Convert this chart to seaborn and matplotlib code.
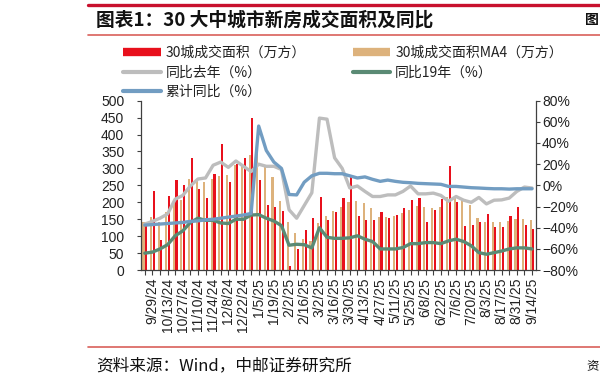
import matplotlib
matplotlib.use("Agg")
import numpy as np
import pandas as pd
import seaborn as sns
import matplotlib.pyplot as plt
from matplotlib.lines import Line2D

# ---------------- data ----------------
dates = pd.date_range("2024-09-22", periods=52, freq="7D")
date_labels = [f"{d.month}/{d.day}/{d.year % 100}" for d in dates]

area = [135, 233, 90, 218, 266, 252, 332, 238, 213, 285,
        372, 260, 312, 331, 450, 267, 192, 186, 175, 12,
        63, 118, 155, 217, 149, 171,
        213, 278, 159, 148, 148, 172, 155, 163, 184, 206,
        212, 141, 176, 210, 307, 201, 129, 133, 143, 165,
        128, 127, 160, 185, 133, 120]

area_ma4 = [142, 156, 143, 172, 200, 207, 268, 267, 260, 268,
            277, 282, 310, 308, 341, 342, 310, 275, 205, 141,
            109, 91, 86, 139, 159, 174,
            187, 202, 204, 198, 183, 157, 157, 160, 169, 177,
            190, 186, 184, 185, 215, 217, 207, 192, 153, 143,
            142, 141, 146, 152, 152, 149]

yoy_last = [-36.5, -34, -31, -27, -13, -9.5, -0.6, 6, 7, 19,
            22, 17, 23, 18, 13, 20, 18, 18, 15, -23,
            -31, -19, -7, 63.5, 62.5, 26,
            16, -2.5, -0.6, -5.7, -10.5, -10.5, -9, -9, -5.7, -0.6,
            -8, -8, -7.3, -9.5, -15, -10.5, -14, -16, -11.4, -17.5,
            -14, -13.7, -12, -5.7, -1.6, -2.5]

yoy_2019 = [-64, -63, -60, -56, -47.6, -43, -35, -31, -33, -33,
            -35.5, -36, -32, -32, -28, -27.6, -31, -33.6, -38, -56.5,
            -55.6, -56, -59, -40, -49, -50,
            -50, -49.5, -47.6, -50.8, -53, -60, -60, -60, -58.7, -55,
            -55, -54, -54, -55, -52.4, -50.8, -53, -57, -63.5, -65,
            -63.5, -62, -60, -59, -59, -60]

yoy_cum = [-37.5, -37, -36.5, -36, -35.5, -35, -34, -33.5, -32.5, -32,
           -31, -30, -29, -28, -26.5, 56, 33, 22, 16, -8.6,
           -9, 3, 9, 11.4, 11.4, 11,
           11, 9, 7, 8, 5.7, 3.8, 5, 3.8, 2.9, 2.5,
           1.9, 1.6, 1.3, 1, -1, -1, -1.6, -2.2, -2.5, -2.9,
           -3.2, -3.2, -3.5, -3.2, -3.2, -3.2]

name_area = "30城成交面积（万方）"
name_ma4 = "30城成交面积MA4（万方）"
name_last = "同比去年（%）"
name_2019 = "同比19年（%）"
name_cum = "累计同比（%）"

left_ticks = [0, 50, 100, 150, 200, 250, 300, 350, 400, 450, 500]
right_ticks = [-80, -60, -40, -20, 0, 20, 40, 60, 80]

# ---------------- style ----------------
C_RED = "#E8101C"
C_TAN = "#DDB27C"
C_GRAY = "#BDBDBD"
C_GREEN = "#5A8A74"
C_BLUE = "#729DC2"
C_SPINE = "#404040"
CJK = ["Noto Sans CJK SC", "Liberation Sans", "DejaVu Sans"]

sns.set_theme(style="white")
plt.rcParams["font.family"] = ["Liberation Sans", "Noto Sans CJK SC", "DejaVu Sans"]
plt.rcParams["axes.unicode_minus"] = True

fig = plt.figure(figsize=(6, 3.87), dpi=100)
ax = fig.add_axes([0.235, 0.302, 0.658, 0.438])

df = pd.DataFrame({
    "date": date_labels * 2,
    "series": [name_ma4] * len(area_ma4) + [name_area] * len(area),
    "value": area_ma4 + area,
})
sns.barplot(data=df, x="date", y="value", hue="series",
            hue_order=[name_ma4, name_area], palette=[C_TAN, C_RED],
            width=0.7, gap=0.2, saturation=1, linewidth=0,
            legend=False, ax=ax, order=date_labels)

ax2 = ax.twinx()
idx = np.arange(len(date_labels))
sns.lineplot(x=idx, y=yoy_last, ax=ax2, color=C_GRAY, linewidth=2.4, legend=False)
sns.lineplot(x=idx, y=yoy_2019, ax=ax2, color=C_GREEN, linewidth=2.4, legend=False)
sns.lineplot(x=idx, y=yoy_cum, ax=ax2, color=C_BLUE, linewidth=2.4, legend=False)

ax.set_xlim(-0.5, len(date_labels) - 0.5)
ax.set_ylim(0, 500)
ax2.set_ylim(-80, 80)
ax.set_xlabel("")
ax.set_ylabel("")
ax2.set_ylabel("")

ax.set_xticks(idx)
ax.set_xticklabels([lab if i % 2 == 1 else "" for i, lab in enumerate(date_labels)],
                   rotation=90, fontsize=10, color="#222222")
ax.set_yticks(left_ticks)
ax.set_yticklabels([str(v) for v in left_ticks], fontsize=10, color="#222222")
ax2.set_yticks(right_ticks)
ax2.set_yticklabels([f"{v}%".replace("-", "\u2212") for v in right_ticks], fontsize=10, color="#222222")

ax.tick_params(axis="x", direction="out", length=3.5, width=0.8, color=C_SPINE, pad=2, bottom=True)
ax.tick_params(axis="y", direction="out", length=3, width=0.8, color=C_SPINE, pad=9, left=True)
ax2.tick_params(axis="y", direction="out", length=3, width=0.8, color=C_SPINE, pad=1.5, right=True)

for a in (ax, ax2):
    a.grid(False)
    a.spines["top"].set_visible(False)
    for s in ("left", "right", "bottom"):
        a.spines[s].set_color(C_SPINE)
        a.spines[s].set_linewidth(0.9)
ax.spines["right"].set_visible(False)
ax2.spines["left"].set_visible(False)
ax2.spines["bottom"].set_visible(False)

# ---------------- legend ----------------
handles = [
    Line2D([], [], color=C_RED, lw=6, solid_capstyle="butt"),
    Line2D([], [], color=C_GRAY, lw=3, solid_capstyle="round"),
    Line2D([], [], color=C_BLUE, lw=3, solid_capstyle="round"),
    Line2D([], [], color=C_TAN, lw=6, solid_capstyle="butt"),
    Line2D([], [], color=C_GREEN, lw=3, solid_capstyle="round"),
]
labels = [name_area, name_last, name_cum, name_ma4, name_2019]
leg = fig.legend(handles, labels, ncol=2, loc="upper left",
                 bbox_to_anchor=(0.205, 1 - 46 / 387), frameon=False,
                 prop={"family": CJK, "size": 10}, handlelength=2.7,
                 handletextpad=0.35, columnspacing=3.4, labelspacing=0.4,
                 borderpad=0, borderaxespad=0)
for t in leg.get_texts():
    t.set_color("#222222")

# ---------------- header / footer ----------------
fig.add_artist(Line2D([88 / 600, 1.0], [1 - 4.5 / 387] * 2, color="#C8102E", lw=2.4))
fig.add_artist(Line2D([88 / 600, 1.0], [1 - 35 / 387] * 2, color="#D9605A", lw=1.2))
fig.add_artist(Line2D([88 / 600, 1.0], [1 - 347 / 387] * 2, color="#D9605A", lw=1.2))

fig.text(96 / 600, 1 - 20 / 387, "图表1：30 大中城市新房成交面积及同比", ha="left", va="center",
         fontsize=13.5, fontweight="bold", family=CJK, color="#111111")
fig.text(599 / 600, 1 - 20 / 387, "图", ha="right", va="center",
         fontsize=10, fontweight="bold", family=CJK, color="#111111")
fig.text(96 / 600, 1 - 366 / 387, "资料来源：Wind，中邮证券研究所", ha="left", va="center",
         fontsize=12, family=CJK, color="#111111")
fig.text(599 / 600, 1 - 366 / 387, "资", ha="right", va="center",
         fontsize=9, family=CJK, color="#111111")

fig.savefig("out.png", dpi=100, facecolor="white")
